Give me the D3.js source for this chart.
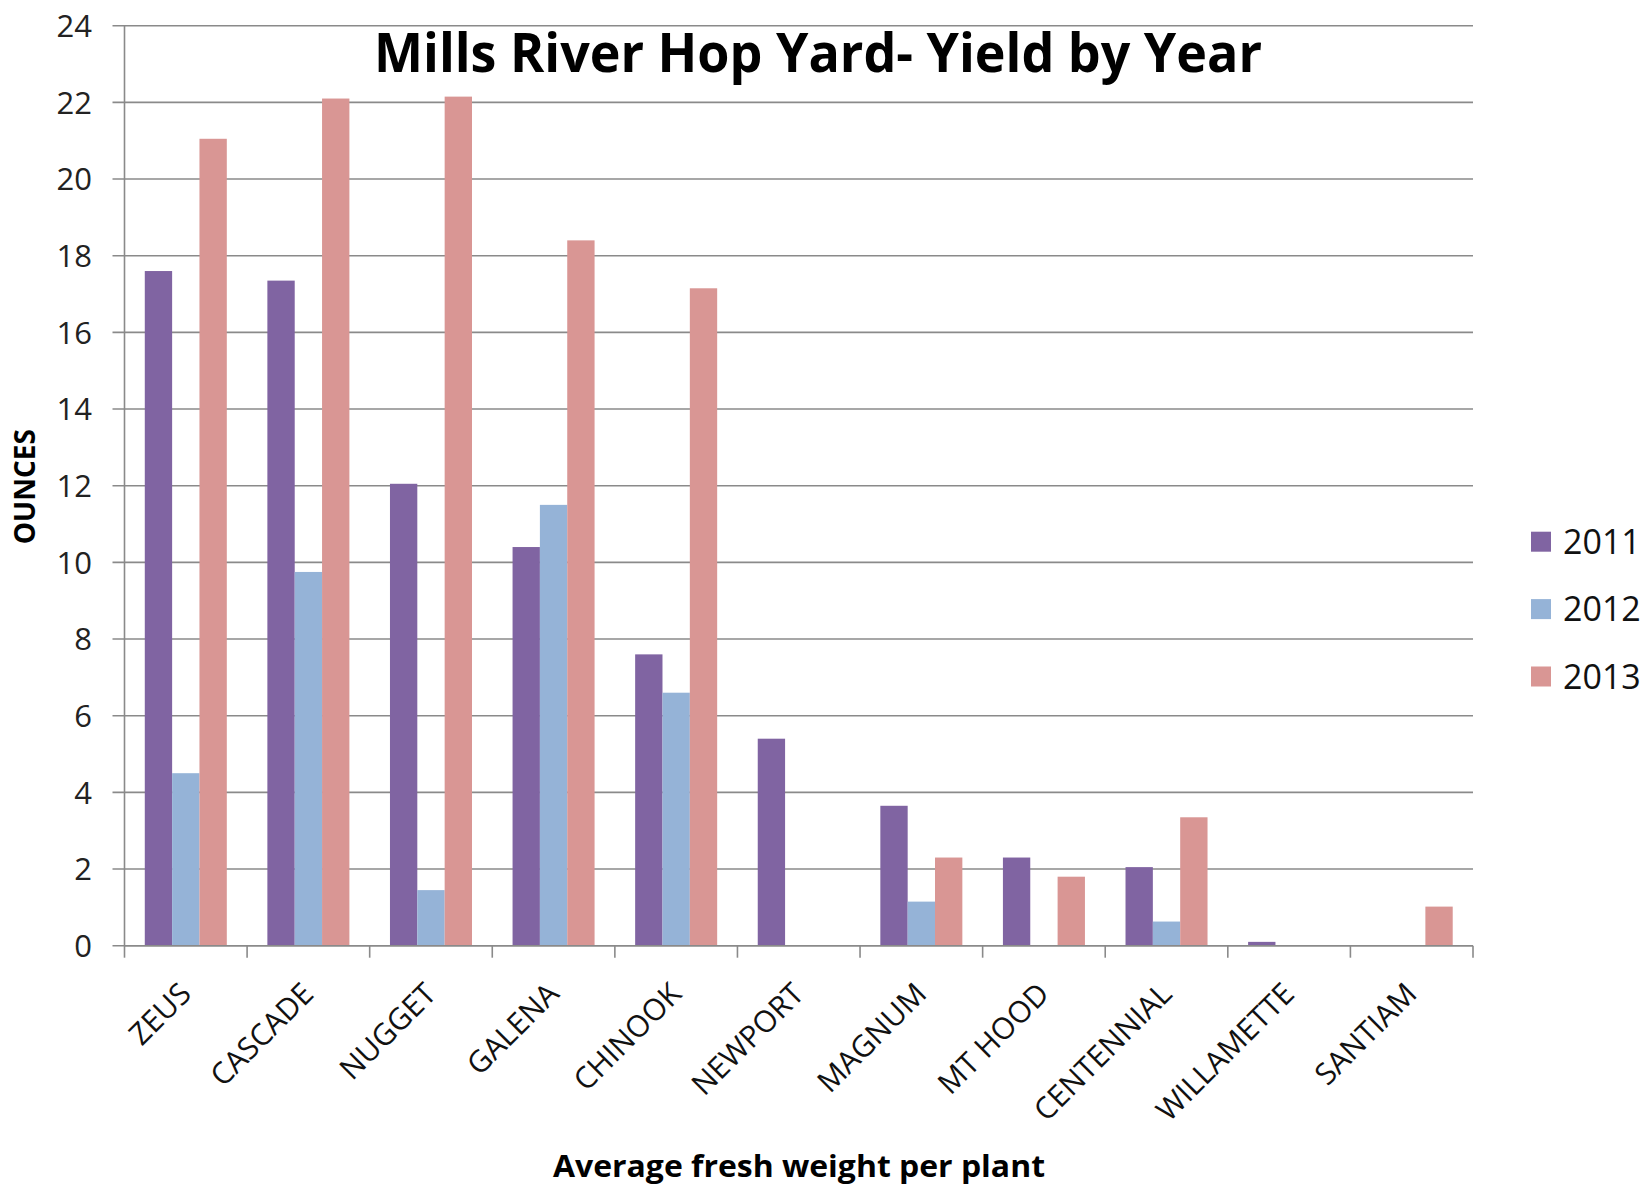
<!DOCTYPE html>
<html>
<head>
<meta charset="utf-8">
<script src="https://cdn.jsdelivr.net/npm/d3@7"></script>
<style>
  html, body { margin: 0; padding: 0; background: #fff; }
  svg { display: block; font-family: "Open Sans", "Noto Sans", sans-serif; }
</style>
</head>
<body>
<svg id="chart" width="1643" height="1186"></svg>
<script>
// Hop varieties grown in the yard
const varieties = ["ZEUS", "CASCADE", "NUGGET", "GALENA", "CHINOOK", "NEWPORT",
                   "MAGNUM", "MT HOOD", "CENTENNIAL", "WILLAMETTE", "SANTIAM"];
const years = ["2011", "2012", "2013"];

// Average fresh weight per plant (ounces), one array per season
const yield2011 = [17.6, 17.35, 12.05, 10.4, 7.6, 5.4, 3.65, 2.3, 2.05, 0.1, 0];
const yield2012 = [4.5, 9.75, 1.45, 11.5, 6.6, 0, 1.15, 0, 0.63, 0, 0];
const yield2013 = [21.05, 22.1, 22.15, 18.4, 17.15, 0, 2.3, 1.8, 3.35, 0, 1.02];

const yTicks = [0, 2, 4, 6, 8, 10, 12, 14, 16, 18, 20, 22, 24];
const yearColors = ["#8064A2", "#95B3D7", "#D99694"];

const titleText = "Mills River Hop Yard- Yield by Year";
const yTitle = "OUNCES";
const xTitle = "Average fresh weight per plant";

const seriesByYear = [yield2011, yield2012, yield2013];
const rows = varieties.map((v, i) => ({
  variety: v,
  values: years.map((yr, k) => ({ year: yr, value: seriesByYear[k][i] }))
}));

const svg = d3.select("#chart");
const plot = { left: 124.5, right: 1473, top: 25.7, bottom: 945.7 };
const gridColor = "#8a8a8a";

const x0 = d3.scaleBand().domain(varieties).range([plot.left, plot.right]).padding(0);
const x1 = d3.scaleBand().domain(years).range([0, x0.bandwidth()])
  .paddingInner(0).paddingOuter(0.742);
const y = d3.scaleLinear().domain([0, 24]).range([plot.bottom, plot.top]);
const color = d3.scaleOrdinal().domain(years).range(yearColors);

// Horizontal gridlines with small outside ticks
svg.append("g").selectAll("line").data(yTicks).join("line")
  .attr("x1", plot.left - 12).attr("x2", plot.right)
  .attr("y1", d => y(d)).attr("y2", d => y(d))
  .attr("stroke", gridColor).attr("stroke-width", 1.6);

// Y tick labels
svg.append("g").selectAll("text").data(yTicks).join("text")
  .attr("x", 92).attr("y", d => y(d))
  .attr("dy", "0.36em")
  .attr("text-anchor", "end")
  .attr("font-size", 31).attr("fill", "#222")
  .text(d => d);

// Bars
const groups = svg.append("g").selectAll("g").data(rows).join("g")
  .attr("transform", d => `translate(${x0(d.variety)},0)`);
groups.selectAll("rect").data(d => d.values.filter(v => v.value > 0)).join("rect")
  .attr("x", d => x1(d.year))
  .attr("width", x1.bandwidth())
  .attr("y", d => y(d.value))
  .attr("height", d => y(0) - y(d.value))
  .attr("fill", d => color(d.year));

// Vertical axis line
svg.append("line")
  .attr("x1", plot.left).attr("x2", plot.left)
  .attr("y1", plot.top).attr("y2", plot.bottom)
  .attr("stroke", gridColor).attr("stroke-width", 1.6);

// Category axis with ticks between groups
const xAxis = svg.append("g");
xAxis.append("line")
  .attr("x1", plot.left).attr("x2", plot.right)
  .attr("y1", plot.bottom).attr("y2", plot.bottom)
  .attr("stroke", gridColor).attr("stroke-width", 1.6);
const boundaries = varieties.map(v => x0(v)).concat([plot.right]);
xAxis.selectAll("line.tick").data(boundaries).join("line")
  .attr("class", "tick")
  .attr("x1", d => d).attr("x2", d => d)
  .attr("y1", plot.bottom).attr("y2", plot.bottom + 12)
  .attr("stroke", gridColor).attr("stroke-width", 1.6);

// Rotated category labels
xAxis.selectAll("text").data(varieties).join("text")
  .attr("transform", d => `translate(${x0(d) + x0.bandwidth() / 2 + 7},${plot.bottom + 50}) rotate(-45)`)
  .attr("text-anchor", "end")
  .attr("font-size", 30).attr("fill", "#111")
  .text(d => d);

// Title
svg.append("text")
  .attr("x", 818).attr("y", 71.5)
  .attr("text-anchor", "middle")
  .attr("font-size", 54).attr("font-weight", "bold").attr("fill", "#000")
  .attr("textLength", 888).attr("lengthAdjust", "spacingAndGlyphs")
  .text(titleText);

// Axis titles
svg.append("text")
  .attr("transform", "translate(35,486.7) rotate(-90)")
  .attr("text-anchor", "middle")
  .attr("font-size", 28).attr("font-weight", "bold").attr("fill", "#000")
  .text(yTitle);

svg.append("text")
  .attr("x", 799).attr("y", 1177)
  .attr("text-anchor", "middle")
  .attr("font-size", 31).attr("font-weight", "bold").attr("fill", "#000")
  .attr("textLength", 492).attr("lengthAdjust", "spacingAndGlyphs")
  .text(xTitle);

// Legend
const legend = svg.append("g").selectAll("g").data(years).join("g")
  .attr("transform", (d, i) => `translate(1531,${541.7 + i * 67.4})`);
legend.append("rect")
  .attr("x", 0).attr("y", -10).attr("width", 20).attr("height", 20)
  .attr("fill", d => color(d));
legend.append("text")
  .attr("x", 32).attr("y", 0).attr("dy", "0.36em")
  .attr("font-size", 34).attr("fill", "#111")
  .text(d => d);
</script>
</body>
</html>
